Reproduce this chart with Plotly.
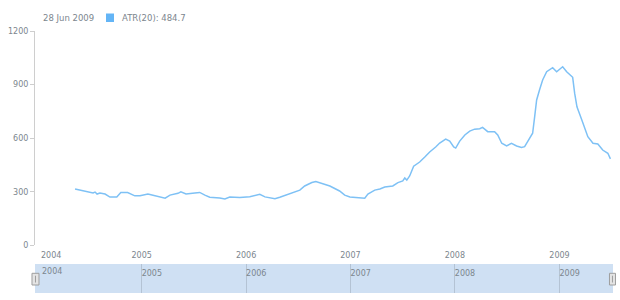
import plotly.graph_objects as go
import datetime

dates = [
    "2004-05-13", "2004-05-31", "2004-06-28", "2004-07-15", "2004-07-22", "2004-07-29",
    "2004-08-08", "2004-08-26", "2004-09-12", "2004-10-06", "2004-10-20", "2004-11-13",
    "2004-12-08", "2004-12-26", "2005-01-23", "2005-02-17", "2005-03-06", "2005-03-24",
    "2005-04-10", "2005-05-08", "2005-05-18", "2005-06-05", "2005-07-06", "2005-07-23",
    "2005-08-10", "2005-08-27", "2005-10-01", "2005-10-19", "2005-11-05", "2005-12-10",
    "2006-01-14", "2006-02-08", "2006-02-18", "2006-03-08", "2006-04-12", "2006-04-29",
    "2006-06-03", "2006-07-08", "2006-07-25", "2006-08-19", "2006-09-02", "2006-09-16",
    "2006-10-21", "2006-11-24", "2006-12-12", "2006-12-30", "2007-02-03", "2007-02-20",
    "2007-03-03", "2007-03-27", "2007-04-14", "2007-05-01", "2007-05-29", "2007-06-16",
    "2007-07-03", "2007-07-10", "2007-07-17", "2007-07-27", "2007-08-10", "2007-08-31",
    "2007-09-18", "2007-10-05", "2007-10-26", "2007-11-09", "2007-11-30", "2007-12-14",
    "2007-12-28", "2008-01-04", "2008-01-18", "2008-02-05", "2008-02-22", "2008-03-10",
    "2008-03-28", "2008-04-07", "2008-04-25", "2008-05-19", "2008-05-30", "2008-06-13",
    "2008-06-30", "2008-07-17", "2008-08-04", "2008-08-21", "2008-09-01", "2008-09-12",
    "2008-09-29", "2008-10-06", "2008-10-13", "2008-10-23", "2008-11-03", "2008-11-17",
    "2008-11-27", "2008-12-08", "2008-12-22", "2009-01-02", "2009-01-12", "2009-01-26",
    "2009-02-16", "2009-02-23", "2009-03-03", "2009-03-20", "2009-03-31", "2009-04-10",
    "2009-04-28", "2009-05-15", "2009-06-01", "2009-06-19", "2009-06-28",
]
atr = [
    316, 310, 299, 294, 299, 288,
    294, 288, 271, 271, 296, 296,
    278, 278, 288, 277, 271, 265,
    282, 292, 300, 288, 294, 297,
    282, 270, 266, 260, 271, 268,
    273, 280, 286, 272, 262, 270,
    292, 310, 333, 352, 358, 352,
    333, 305, 282, 271, 268, 265,
    288, 310, 316, 327, 333, 352,
    361, 378, 366, 389, 444, 467,
    495, 523, 551, 573, 595, 584,
    551, 545, 584, 618, 640, 651,
    653, 661, 637, 637, 618, 572,
    557, 572, 557, 549, 553, 581,
    628, 720, 814, 870, 926, 972,
    982, 995, 972, 986, 1000, 972,
    941, 851, 776, 702, 656, 609,
    572, 568, 534, 516, 484.7,
]

year_ticks = ["2004-01-01", "2005-01-01", "2006-01-01", "2007-01-01", "2008-01-01", "2009-01-01"]
year_labels = ["2004", "2005", "2006", "2007", "2008", "2009"]
y_ticks = [0, 300, 600, 900, 1200]
x_range = ["2003-12-25", "2009-07-07"]

series_name = "ATR(20)"
line_color = "#7ec1f5"
marker_color = "#64b5f6"
text_color = "#7c868e"
axis_color = "#cecece"
nav_fill = "#cfe0f3"
font_family = "DejaVu Sans"

fig = go.Figure()
fig.add_trace(go.Scatter(
    x=dates, y=atr, mode="lines", name=series_name,
    line=dict(color=line_color, width=1.5, shape="linear"),
    hoverinfo="skip", showlegend=False,
))
# empty trace to attach the navigator axes
fig.add_trace(go.Scatter(x=[], y=[], xaxis="x2", yaxis="y2", showlegend=False, hoverinfo="skip"))

fig.update_layout(
    width=620, height=300,
    margin=dict(l=35, r=7, t=31, b=7, autoexpand=False),
    paper_bgcolor="white", plot_bgcolor="white",
    font=dict(family=font_family, color=text_color, size=8),
    showlegend=False,
    xaxis=dict(
        domain=[0, 1], anchor="y", type="date", range=x_range,
        tickvals=year_ticks[1:], ticktext=year_labels[1:],
        showgrid=False, showline=False, zeroline=False, ticks="",
        ticklabelstandoff=4,
        tickfont=dict(size=8, color=text_color), automargin=False,
    ),
    yaxis=dict(
        domain=[0.1813, 1], anchor="x", range=[0, 1200],
        tickvals=y_ticks, showgrid=False, zeroline=False,
        showline=True, linecolor=axis_color, linewidth=1,
        ticks="outside", ticklen=4, tickcolor=axis_color,
        tickfont=dict(size=8, color=text_color), automargin=False,
    ),
    xaxis2=dict(
        domain=[0, 1], anchor="y2", type="date", range=x_range,
        tickvals=year_ticks[1:], ticktext=year_labels[1:],
        side="top", ticklabelposition="inside right",
        showgrid=True, gridcolor="#b4c3d4", gridwidth=1,
        showline=False, zeroline=False, ticks="",
        tickfont=dict(size=8, color=text_color), automargin=False,
    ),
    yaxis2=dict(
        domain=[0, 0.1107], anchor="x2", range=[0, 1],
        showgrid=False, showticklabels=False, zeroline=False, showline=False, ticks="",
        automargin=False,
    ),
)

# first-year labels (kept inside the plot edge, as in the reference)
fig.add_annotation(x=year_ticks[0], y=0, xref="x", yref="y domain", text=year_labels[0],
                   showarrow=False, xanchor="left", yanchor="top", xshift=2, yshift=-4,
                   font=dict(size=8, color=text_color))

# Navigator background and first-year label
fig.add_shape(type="rect", xref="x2 domain", yref="y2 domain", x0=0, x1=1, y0=0, y1=1,
              fillcolor=nav_fill, line=dict(width=0), layer="below")
fig.add_annotation(x=year_ticks[0], y=1, xref="x2", yref="y2 domain", text=year_labels[0],
                   showarrow=False, xanchor="left", yanchor="top", xshift=3, yshift=-1,
                   font=dict(size=8, color=text_color))

# navigator handles
for x0, x1 in [(-0.0052, 0.0069), (0.9939, 1.0043)]:
    fig.add_shape(type="rect", xref="paper", yref="paper", x0=x0, x1=x1, y0=0.0305, y1=0.0752,
                  fillcolor="#e4e4e4", line=dict(color="#9e9e9e", width=1), layer="above")
    xm = (x0 + x1) / 2
    fig.add_shape(type="line", xref="paper", yref="paper", x0=xm, x1=xm, y0=0.040, y1=0.066,
                  line=dict(color="#9e9e9e", width=1), layer="above")

# header: date and value
last_date = datetime.date.fromisoformat(dates[-1])
header_date = f"{last_date.day} {last_date.strftime('%b %Y')}"
fig.add_annotation(x=0.0104, y=1.0496, xref="paper", yref="paper", text=header_date,
                   showarrow=False, xanchor="left", yanchor="middle",
                   font=dict(size=8.5, color=text_color))
fig.add_shape(type="rect", xref="paper", yref="paper", x0=0.1228, x1=0.1367, y0=1.0344, y1=1.0668,
              fillcolor=marker_color, line=dict(width=0))
fig.add_annotation(x=0.147, y=1.0496, xref="paper", yref="paper",
                   text=f"{series_name}: {atr[-1]}",
                   showarrow=False, xanchor="left", yanchor="middle",
                   font=dict(size=8.5, color=text_color))

fig.write_html("out.html")
